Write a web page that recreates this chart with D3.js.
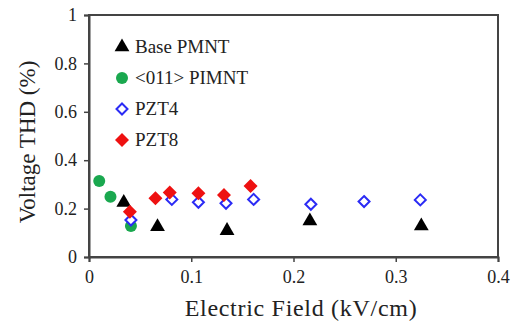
<!DOCTYPE html>
<html>
<head>
<meta charset="utf-8">
<script src="https://cdn.jsdelivr.net/npm/d3@7"></script>
<style>
  body { margin: 0; background: #fff; font-family: 'Liberation Serif'; }
</style>
</head>
<body>
<div id="chart"></div>
<script>
// data
const basePmntX = [0.034, 0.067, 0.135, 0.216, 0.325];
const basePmntY = [0.225, 0.125, 0.109, 0.149, 0.128];
const pimntX = [0.010, 0.021, 0.041];
const pimntY = [0.314, 0.249, 0.128];
const pzt4X = [0.041, 0.081, 0.107, 0.134, 0.161, 0.217, 0.269, 0.324];
const pzt4Y = [0.153, 0.238, 0.226, 0.222, 0.238, 0.218, 0.229, 0.236];
const pzt8X = [0.040, 0.065, 0.079, 0.107, 0.132, 0.158];
const pzt8Y = [0.187, 0.243, 0.267, 0.263, 0.256, 0.293];
const xTicks = [0, 0.1, 0.2, 0.3, 0.4];
const yTicks = [0, 0.2, 0.4, 0.6, 0.8, 1];

const series = [
  { name: 'Base PMNT', xs: basePmntX, ys: basePmntY, shape: 'tri' },
  { name: '<011> PIMNT', xs: pimntX, ys: pimntY, shape: 'circle' },
  { name: 'PZT4', xs: pzt4X, ys: pzt4Y, shape: 'hollowDiamond' },
  { name: 'PZT8', xs: pzt8X, ys: pzt8Y, shape: 'diamond' }
];

const width = 515, height = 324;
const margin = { left: 89, top: 15, right: 17, bottom: 67 };
const serif = "'Liberation Serif'";

const svg = d3.select('#chart').append('svg')
  .attr('width', width)
  .attr('height', height);

const x = d3.scaleLinear().domain([0, 0.4]).range([margin.left, width - margin.right]);
const y = d3.scaleLinear().domain([0, 1]).range([height - margin.bottom, margin.top]);

const axisColor = '#444';

// frame
svg.append('rect')
  .attr('x', x(0)).attr('y', y(1))
  .attr('width', x(0.4) - x(0)).attr('height', y(0) - y(1))
  .attr('fill', 'none').attr('stroke', axisColor).attr('stroke-width', 2);

// x axis
const xAxis = svg.append('g')
  .attr('transform', `translate(0,${y(0)})`)
  .call(d3.axisBottom(x).tickValues(xTicks).tickSize(5).tickPadding(8)
    .tickFormat(d => d === 0 ? '0' : d3.format('.1f')(d)));
xAxis.attr('font-family', null);
xAxis.select('.domain').attr('stroke', axisColor).attr('stroke-width', 2);
xAxis.selectAll('line').attr('stroke', axisColor).attr('stroke-width', 1.5);
xAxis.selectAll('text')
  .style('font-family', serif).style('font-size', '18px').attr('fill', '#222');

// y axis
const yAxis = svg.append('g')
  .attr('transform', `translate(${x(0)},0)`)
  .call(d3.axisLeft(y).tickValues(yTicks).tickSize(5).tickPadding(7)
    .tickFormat(d => d === 0 || d === 1 ? String(d) : d3.format('.1f')(d)));
yAxis.attr('font-family', null);
yAxis.select('.domain').attr('stroke', axisColor).attr('stroke-width', 2);
yAxis.selectAll('line').attr('stroke', axisColor).attr('stroke-width', 1.5);
yAxis.selectAll('text')
  .style('font-family', serif).style('font-size', '18px').attr('fill', '#222');

// axis titles
svg.append('text')
  .attr('x', 301)
  .attr('y', 316)
  .attr('text-anchor', 'middle')
  .style('font-family', serif)
  .style('font-size', '24px')
  .style('letter-spacing', '0.7px')
  .attr('fill', '#222')
  .text('Electric Field (kV/cm)');

svg.append('text')
  .attr('transform', 'translate(35,142) rotate(-90)')
  .attr('text-anchor', 'middle')
  .style('font-family', serif)
  .style('font-size', '23px')
  .attr('fill', '#222')
  .text('Voltage THD (%)');

// marker drawing
function drawMarker(g, shape) {
  if (shape === 'tri') {
    g.append('path')
      .attr('d', d3.symbol(d3.symbolTriangle, 95)())
      .attr('fill', '#000');
  } else if (shape === 'circle') {
    g.append('circle').attr('r', 6).attr('fill', '#1aa84f');
  } else if (shape === 'hollowDiamond') {
    g.append('path')
      .attr('d', 'M0,-5.5L5.5,0L0,5.5L-5.5,0Z')
      .attr('fill', '#fff').attr('stroke', '#2b2bf5').attr('stroke-width', 2);
  } else {
    g.append('path')
      .attr('d', 'M0,-7L7,0L0,7L-7,0Z')
      .attr('fill', '#ee1111');
  }
}

series.forEach(s => {
  const pts = s.xs.map((v, i) => [v, s.ys[i]]);
  svg.append('g').selectAll('g')
    .data(pts)
    .enter()
    .append('g')
    .attr('transform', d => `translate(${x(d[0])},${y(d[1])})`)
    .each(function () { drawMarker(d3.select(this), s.shape); });
});

// legend
const legend = svg.append('g');
series.forEach((s, i) => {
  const row = legend.append('g').attr('transform', `translate(122,${47 + i * 31})`);
  drawMarker(row.append('g'), s.shape);
  row.append('text')
    .attr('x', 13)
    .attr('y', 6)
    .style('font-family', serif)
    .style('font-size', '19px')
    .attr('fill', '#222')
    .text(s.name);
});
</script>
</body>
</html>
